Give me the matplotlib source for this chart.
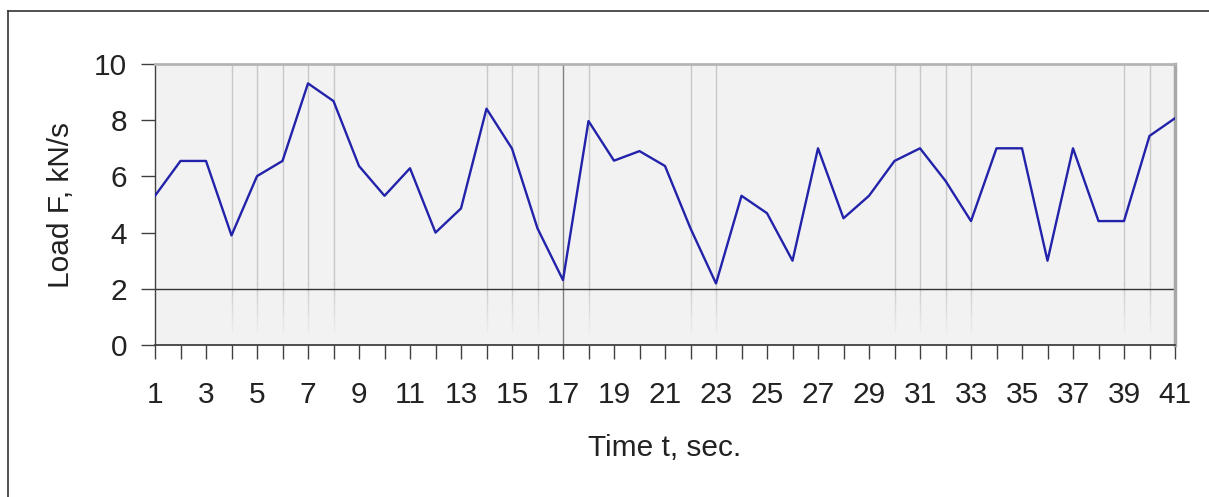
import numpy as np
import matplotlib
matplotlib.use("Agg")
import matplotlib.pyplot as plt
from matplotlib.lines import Line2D

# time points and measured load
t = list(range(1, 42))
load = [5.31, 6.55, 6.55, 3.90, 6.01, 6.55, 9.31, 8.68, 6.37, 5.31,
        6.29, 4.00, 4.86, 8.41, 6.99, 4.15, 2.31, 7.97, 6.56, 6.90,
        6.37, 4.15, 2.19, 5.31, 4.69, 3.00, 7.00, 4.51, 5.31, 6.55,
        7.00, 5.84, 4.41, 7.00, 7.00, 3.00, 7.00, 4.41, 4.41, 7.44,
        8.07]
# light vertical guide lines (x positions) and highlighted lines
guide_t = [4, 5, 6, 7, 8, 14, 15, 16, 18, 22, 23, 30, 31, 32, 33, 39, 40]
mark_t = 17
mark_load = 2
yticks = [0, 2, 4, 6, 8, 10]

plt.rcParams['font.family'] = ['Liberation Sans', 'DejaVu Sans']

fig = plt.figure(figsize=(12.09, 4.97), dpi=100)
ax = fig.add_axes([155/1209, 1-345/497, 1020/1209, 281/497])
ax.set_facecolor('#f2f2f2')

# guide lines fade out towards the bottom
for g in guide_t:
    ax.plot([g, g], [2.2, 10], color='#c8c8c8', lw=1, zorder=1)
    segs = np.linspace(0.4, 2.2, 13)
    for i in range(len(segs) - 1):
        a = (i + 1) / (len(segs) - 1)
        ax.plot([g, g], [segs[i], segs[i+1]], color='#c8c8c8', lw=1,
                alpha=a, zorder=1, solid_capstyle='butt')

ax.axvline(mark_t, color='#808080', lw=1, zorder=2)
ax.axhline(mark_load, color='#333333', lw=1, zorder=2)

ax.plot(t, load, color='#2222aa', lw=1.7, zorder=3)

ax.set_xlim(1, 41)
ax.set_ylim(0, 10)
ax.set_xticks(t)
ax.set_xticklabels([str(v) if i % 2 == 0 else '' for i, v in enumerate(t)])
ax.set_yticks(yticks)
ax.tick_params(axis='x', length=10, width=1, color='#404040', pad=16,
               labelsize=21.5, labelcolor='#222222')
ax.tick_params(axis='y', length=10, width=1, color='#404040', pad=10,
               labelsize=21.5, labelcolor='#222222')

ax.spines['left'].set_color('#404040')
ax.spines['left'].set_linewidth(1)
ax.spines['bottom'].set_color('#404040')
ax.spines['bottom'].set_linewidth(1.3)
ax.spines['top'].set_color('#b4b4b4')
ax.spines['top'].set_linewidth(2)
ax.spines['right'].set_color('#a8a8a8')
ax.spines['right'].set_linewidth(2.5)

ax.set_xlabel('Time t, sec.', fontsize=21.5, color='#222222', labelpad=18)
ax.set_ylabel('Load F, kN/s', fontsize=21.5, color='#222222', labelpad=14)

# outer frame of the chart object
fig.add_artist(Line2D([8/1209, 8/1209], [0, 1-11/497], color='#333333', lw=1.2))
fig.add_artist(Line2D([8/1209, 1], [1-11/497, 1-11/497], color='#333333', lw=1.2))

fig.savefig('out.png', dpi=100)
